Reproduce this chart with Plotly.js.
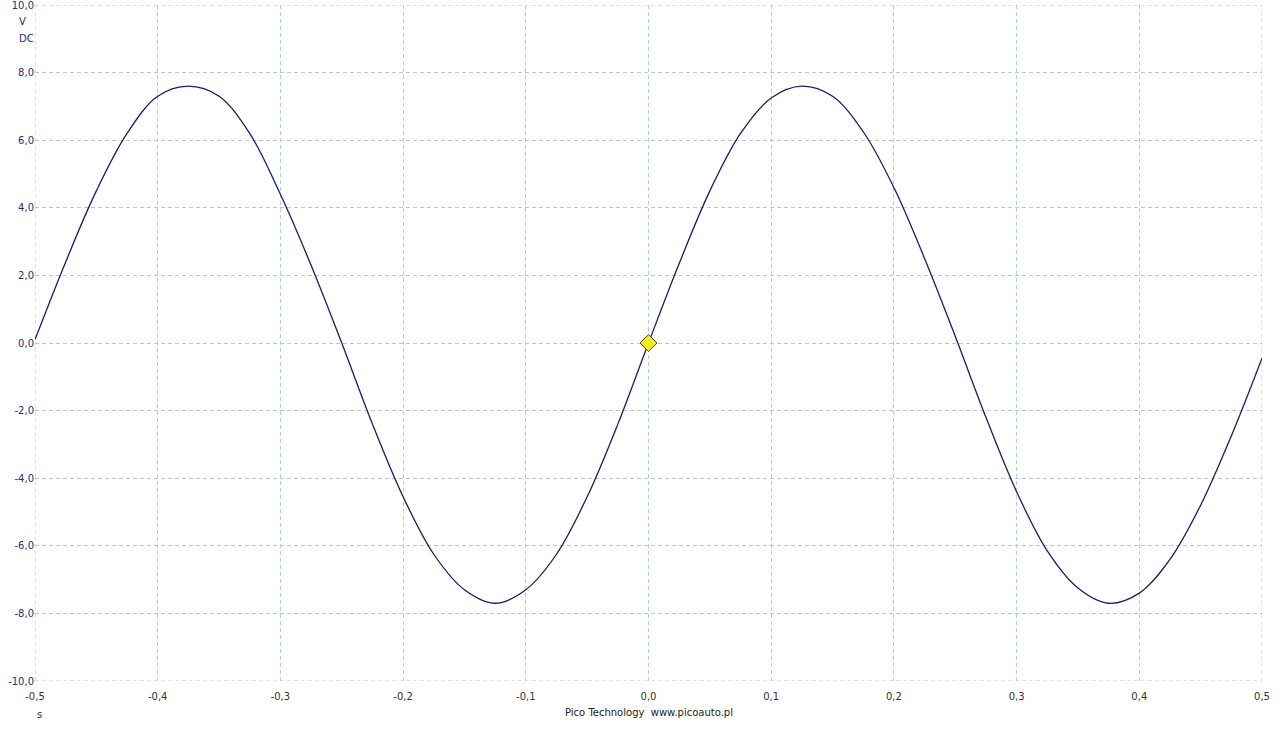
<!DOCTYPE html>
<html>
<head>
<meta charset="utf-8">
<script src="https://cdn.plot.ly/plotly-3.0.1.min.js"></script>
<style>
html,body{margin:0;padding:0;background:#fff;}
#chart{width:1280px;height:729px;}
</style>
</head>
<body>
<div id="chart"></div>
<script>
// time (s)
var timeS = [-0.500,-0.475,-0.450,-0.425,-0.400,-0.375,-0.350,-0.325,-0.300,-0.275,
             -0.250,-0.225,-0.200,-0.175,-0.150,-0.125,-0.100,-0.075,-0.050,-0.025,
              0.000, 0.025, 0.050, 0.075, 0.100, 0.125, 0.150, 0.175, 0.200, 0.225,
              0.250, 0.275, 0.300, 0.325, 0.350, 0.375, 0.400, 0.425, 0.450, 0.475, 0.500];
// voltage (V DC)
var voltV = [0.1, 2.4, 4.5, 6.2, 7.3, 7.6, 7.3, 6.2, 4.4, 2.3,
             0.0, -2.4, -4.55, -6.25, -7.3, -7.7, -7.3, -6.25, -4.55, -2.4,
             0.0, 2.35, 4.5, 6.2, 7.25, 7.6, 7.3, 6.25, 4.6, 2.5,
             0.2, -2.2, -4.4, -6.15, -7.25, -7.7, -7.4, -6.4, -4.8, -2.75, -0.45];
var triggerT = [0.0];
var triggerV = [0.0];
var xTicks = [-0.5,-0.4,-0.3,-0.2,-0.1,0.0,0.1,0.2,0.3,0.4,0.5];
var xTickText = ['-0,5','-0,4','-0,3','-0,2','-0,1','0,0','0,1','0,2','0,3','0,4','0,5'];
var yTicks = [-10,-8,-6,-4,-2,0,2,4,6,8,10];
var yTickText = ['-10,0','-8,0','-6,0','-4,0','-2,0','0,0','2,0','4,0','6,0','8,0','10,0'];

var traces = [
  {x: timeS, y: voltV, type: 'scatter', mode: 'lines',
   line: {color: '#1b1b6b', width: 1.3, shape: 'spline', smoothing: 1.0},
   hoverinfo: 'skip'},
  {x: triggerT, y: triggerV, type: 'scatter', mode: 'markers',
   marker: {symbol: 'diamond', size: 13, color: '#f2ee1c', line: {color: '#4a4a20', width: 1}}}
];

var vGrid = '#a9d4df', hGrid = '#b8c6d6', dash = '4px,3px';
var layout = {
  width: 1280, height: 729,
  margin: {l: 35, r: 18, t: 5, b: 48},
  paper_bgcolor: '#ffffff', plot_bgcolor: '#ffffff',
  showlegend: false,
  font: {family: 'DejaVu Sans, sans-serif', size: 10, color: '#222'},
  xaxis: {
    range: [-0.5, 0.5], tickvals: xTicks, ticktext: xTickText,
    showgrid: true, gridcolor: vGrid, griddash: dash, gridwidth: 1,
    zeroline: false, showline: false, ticks: 'outside', ticklen: 6, tickcolor: 'rgba(0,0,0,0)',
    ticklabeloverflow: 'allow',
    tickfont: {family: 'DejaVu Sans, sans-serif', size: 10, color: '#333333'}
  },
  yaxis: {
    range: [-10, 10], tickvals: yTicks, ticktext: yTickText,
    showgrid: true, gridcolor: hGrid, griddash: dash, gridwidth: 1,
    zeroline: false, showline: false, ticks: '', ticklen: 0,
    ticklabeloverflow: 'allow',
    tickfont: {family: 'DejaVu Sans, sans-serif', size: 10, color: '#2a2a80'}
  },
  shapes: [
    {type: 'line', xref: 'x', yref: 'paper', x0: -0.5, x1: -0.5, y0: 0, y1: 1, layer: 'below',
     line: {color: vGrid, width: 1, dash: dash}},
    {type: 'line', xref: 'x', yref: 'paper', x0: 0.5, x1: 0.5, y0: 0, y1: 1, layer: 'below',
     line: {color: vGrid, width: 1, dash: dash}},
    {type: 'line', xref: 'paper', yref: 'y', x0: 0, x1: 1, y0: 10, y1: 10, layer: 'below',
     line: {color: hGrid, width: 1, dash: dash}},
    {type: 'line', xref: 'paper', yref: 'y', x0: 0, x1: 1, y0: -10, y1: -10, layer: 'below',
     line: {color: hGrid, width: 1, dash: dash}}
  ],
  annotations: [
    {xref: 'paper', yref: 'paper', x: 0, y: 1, xanchor: 'right', yanchor: 'top',
     xshift: -7, yshift: -9, text: 'V', showarrow: false,
     font: {family: 'DejaVu Sans, sans-serif', size: 10, color: '#2a2a80'}},
    {xref: 'paper', yref: 'paper', x: 0, y: 1, xanchor: 'right', yanchor: 'top',
     xshift: 1, yshift: -26, text: 'DC', showarrow: false,
     font: {family: 'DejaVu Sans, sans-serif', size: 10, color: '#2a2a80'}},
    {xref: 'paper', yref: 'paper', x: 0, y: 0, xanchor: 'center', yanchor: 'top',
     xshift: 4, yshift: -26, text: 's', showarrow: false,
     font: {family: 'DejaVu Sans, sans-serif', size: 10, color: '#333333'}},
    {xref: 'paper', yref: 'paper', x: 0.5, y: 0, xanchor: 'center', yanchor: 'top',
     xshift: 0, yshift: -24, text: 'Pico Technology&nbsp;&nbsp;www.picoauto.pl', showarrow: false,
     font: {family: 'DejaVu Sans, sans-serif', size: 10, color: '#222222'}}
  ]
};

Plotly.newPlot('chart', traces, layout, {displayModeBar: false, staticPlot: true});
</script>
</body>
</html>
